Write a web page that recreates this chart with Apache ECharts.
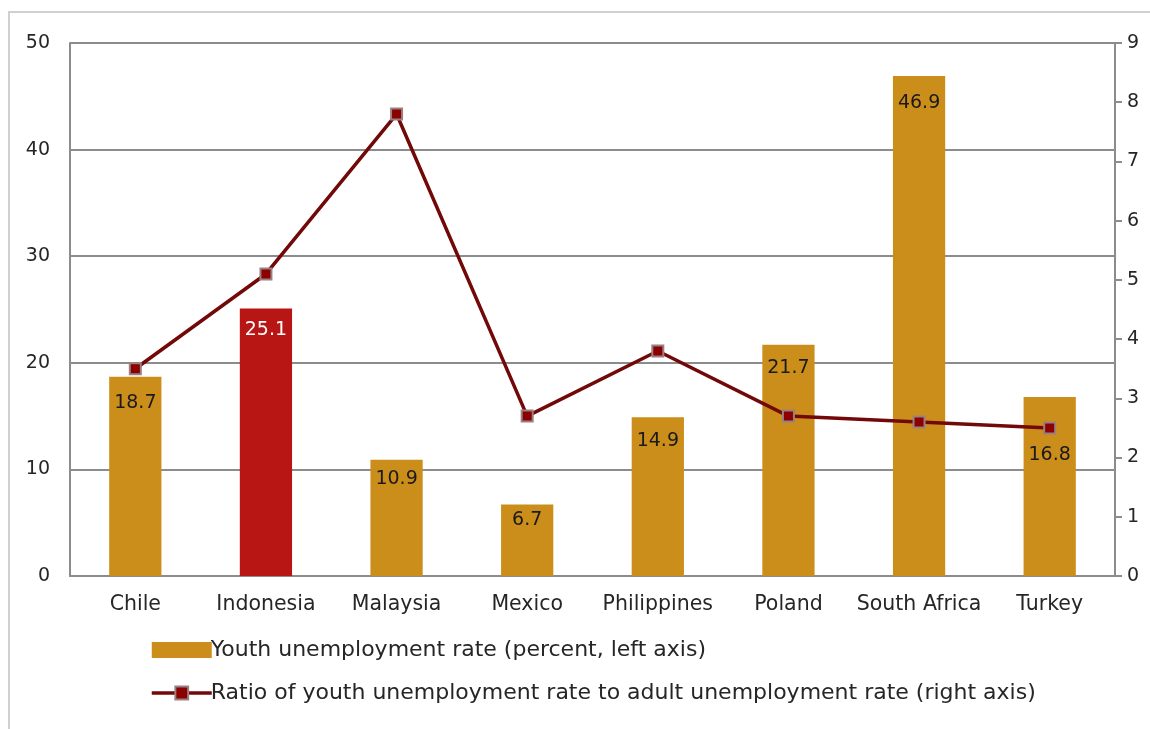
<!DOCTYPE html>
<html>
<head>
<meta charset="utf-8">
<script src="https://cdn.jsdelivr.net/npm/echarts@6/dist/echarts.min.js"></script>
<style>
  html, body { margin: 0; padding: 0; background: #fff; }
  #frame { position: absolute; left: 8px; top: 11px; width: 1160px; height: 740px; border: 2px solid #d0d0d0; box-sizing: border-box; }
  #chart { position: absolute; left: 0; top: 0; width: 1150px; height: 729px; }
</style>
</head>
<body>
<div id="frame"></div>
<div id="chart"></div>
<script>
// Countries on the x axis
const countries = ['Chile', 'Indonesia', 'Malaysia', 'Mexico', 'Philippines', 'Poland', 'South Africa', 'Turkey'];
// Youth unemployment rate, percent (left axis)
const youthRate = [18.7, 25.1, 10.9, 6.7, 14.9, 21.7, 46.9, 16.8];
// Ratio of youth to adult unemployment rate (right axis)
const youthAdultRatio = [3.5, 5.1, 7.8, 2.7, 3.8, 2.7, 2.6, 2.5];
// Tick labels
const leftTicks = [0, 10, 20, 30, 40, 50];
const rightTicks = [0, 1, 2, 3, 4, 5, 6, 7, 8, 9];

const highlighted = 'Indonesia';
const FONT = 'DejaVu Sans';
const GOLD = '#cc8e1a';
const RED = '#b81614';
const MAROON = '#730808';
const TEXT = '#262626';

// Vertical nudges that keep value labels clear of the ratio line
const labelNudge = [5, 0, -2, -6, 2, 2, 6, 37];

const chart = echarts.init(document.getElementById('chart'), null, { renderer: 'canvas' });

const barData = youthRate.map((v, i) => {
  const hi = countries[i] === highlighted;
  return {
    value: v,
    itemStyle: { color: hi ? RED : GOLD },
    label: { color: hi ? '#ffffff' : '#1a1a1a', offset: [0, labelNudge[i]] }
  };
});

const lineName = 'Ratio of youth unemployment rate to adult unemployment rate (right axis)';
const barName = 'Youth unemployment rate (percent, left axis)';

chart.setOption({
  animation: false,
  textStyle: { fontFamily: FONT },
  grid: { left: 70, right: 35, top: 43, bottom: 153, containLabel: false },
  legend: {
    orient: 'vertical',
    left: 150,
    top: 639,
    padding: 0,
    itemGap: 21,
    itemWidth: 60,
    itemHeight: 16,
    textStyle: { fontFamily: FONT, fontSize: 22, color: TEXT, padding: [0, 0, 0, -6] },
    data: [
      { name: barName, icon: 'rect' },
      { name: lineName, lineStyle: { width: 3.5 } }
    ]
  },
  xAxis: {
    type: 'category',
    data: countries,
    axisLine: { lineStyle: { color: '#8c8c8c', width: 2 } },
    axisTick: { show: false },
    axisLabel: { interval: 0, fontFamily: FONT, fontSize: 20.5, color: TEXT, margin: 18 }
  },
  yAxis: [
    {
      type: 'value',
      min: leftTicks[0],
      max: leftTicks[leftTicks.length - 1],
      interval: 10,
      axisLine: { show: true, lineStyle: { color: '#8c8c8c', width: 2 } },
      axisTick: { show: false },
      axisLabel: { fontFamily: FONT, fontSize: 19, color: TEXT, margin: 20 },
      splitLine: { lineStyle: { color: '#8c8c8c', width: 2 } }
    },
    {
      type: 'value',
      min: rightTicks[0],
      max: rightTicks[rightTicks.length - 1],
      interval: 1,
      position: 'right',
      axisLine: { show: true, lineStyle: { color: '#8c8c8c', width: 2 } },
      axisTick: { show: true, length: 7, lineStyle: { color: '#8c8c8c', width: 2 } },
      axisLabel: { fontFamily: FONT, fontSize: 19, color: TEXT, margin: 12 },
      splitLine: { show: false }
    }
  ],
  series: [
    {
      name: barName,
      type: 'bar',
      yAxisIndex: 0,
      barWidth: '40%',
      itemStyle: { color: GOLD },
      data: barData,
      label: {
        show: true,
        position: 'insideTop',
        distance: 12,
        fontFamily: FONT,
        fontSize: 19
      },
      z: 2
    },
    {
      name: lineName,
      type: 'line',
      yAxisIndex: 1,
      data: youthAdultRatio,
      symbol: 'rect',
      symbolSize: 11,
      lineStyle: { color: MAROON, width: 3.5 },
      itemStyle: { color: '#8b0000', borderColor: '#9a8080', borderWidth: 2 },
      z: 3
    }
  ]
});
</script>
</body>
</html>
